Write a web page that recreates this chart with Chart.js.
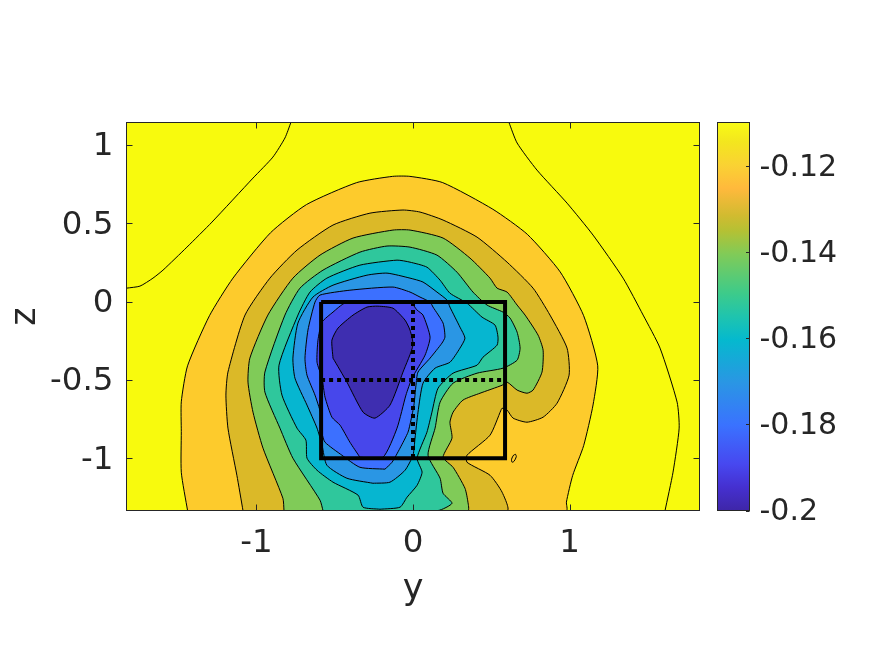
<!DOCTYPE html>
<html>
<head>
<meta charset="utf-8">
<title>Contour map</title>
<script src="https://cdn.jsdelivr.net/npm/chart.js@4/dist/chart.umd.js"></script>
<style>
  body { margin: 0; background: #fff; }
  #wrap { position: relative; width: 875px; height: 656px; overflow: hidden; }
  #contour { position: absolute; left: 0; top: 0; }
  #colorbar { position: absolute; left: 700px; top: 0; }
</style>
</head>
<body>
<div id="wrap">
  <canvas id="contour" width="875" height="656"></canvas>
  <canvas id="colorbar" width="175" height="656"></canvas>
</div>
<script>
// Axis ranges and ticks
const yRange = [-1.83, 1.83];
const zRange = [-1.334, 1.144];
const yTicks = [-1, 0, 1];
const zTicks = [-1, -0.5, 0, 0.5, 1];
const cRange = [-0.2, -0.1098];
const cTicks = [-0.2, -0.18, -0.16, -0.14, -0.12];

// Contour outlines as [y, z], outermost level first
const levelBase = [[-1.83,-1.334],[-1.83,1.144],[1.83,1.144],[1.83,-1.334]];
const levelA = [[-1.44,-1.334],[-1.48,-1.09],[-1.48,-0.83],[-1.48,-0.64],[-1.44,-0.41],[-1.30,-0.09],[-1.15,0.15],[-0.91,0.44],[-0.68,0.62],[-0.36,0.76],[-0.13,0.80],[-0.02,0.80],[0.19,0.76],[0.51,0.59],[0.73,0.43],[0.94,0.19],[1.09,-0.09],[1.18,-0.41],[1.15,-0.66],[1.09,-0.92],[1.02,-1.11],[0.98,-1.28],[0.98,-1.334]];
const levelB = [[-1.086,-1.334],[-1.125,-1.109],[-1.182,-0.808],[-1.195,-0.597],[-1.182,-0.45],[-1.073,-0.086],[-0.914,0.15],[-0.741,0.329],[-0.511,0.489],[-0.275,0.565],[-0.064,0.585],[0.045,0.572],[0.192,0.521],[0.409,0.412],[0.601,0.252],[0.767,0.086],[0.875,-0.086],[0.984,-0.297],[0.997,-0.47],[0.92,-0.649],[0.831,-0.738],[0.728,-0.77],[0.639,-0.744],[0.601,-0.693],[0.569,-0.681],[0.562,-0.693],[0.492,-0.853],[0.345,-0.981],[0.345,-1.026],[0.492,-1.109],[0.569,-1.217],[0.601,-1.334]];
const levelC = [[-0.824,-1.334],[-0.831,-1.256],[-0.958,-0.936],[-1.022,-0.706],[-1.054,-0.514],[-1.042,-0.361],[-0.927,-0.086],[-0.767,0.15],[-0.594,0.297],[-0.383,0.406],[-0.128,0.457],[-0.019,0.457],[0.192,0.406],[0.364,0.278],[0.492,0.15],[0.537,0.086],[0.601,0.061],[0.665,-0.022],[0.716,-0.086],[0.799,-0.214],[0.831,-0.31],[0.824,-0.45],[0.767,-0.565],[0.728,-0.585],[0.665,-0.565],[0.601,-0.514],[0.569,-0.534],[0.428,-0.585],[0.319,-0.629],[0.256,-0.706],[0.236,-0.77],[0.249,-0.872],[0.192,-0.994],[0.256,-1.058],[0.332,-1.192],[0.351,-1.281],[0.351,-1.334]];
const levelD = [[-0.575,-1.334],[-0.594,-1.268],[-0.767,-1.0],[-0.85,-0.808],[-0.946,-0.578],[-0.946,-0.45],[-0.818,-0.086],[-0.722,0.086],[-0.575,0.201],[-0.339,0.316],[-0.166,0.355],[-0.019,0.348],[0.153,0.297],[0.281,0.188],[0.383,0.061],[0.473,-0.022],[0.575,-0.067],[0.62,-0.105],[0.665,-0.195],[0.684,-0.297],[0.665,-0.374],[0.575,-0.425],[0.409,-0.457],[0.256,-0.521],[0.173,-0.642],[0.141,-0.808],[0.096,-0.981],[0.173,-1.128],[0.192,-1.224],[0.249,-1.288],[0.16,-1.334]];
const levelE = [[-0.211,-1.326],[-0.319,-1.313],[-0.351,-1.236],[-0.511,-1.153],[-0.613,-1.077],[-0.677,-1.0],[-0.684,-0.885],[-0.741,-0.808],[-0.837,-0.597],[-0.856,-0.406],[-0.735,-0.086],[-0.658,0.061],[-0.55,0.15],[-0.339,0.233],[-0.102,0.265],[-0.019,0.252],[0.089,0.22],[0.173,0.137],[0.236,0.054],[0.345,-0.01],[0.441,-0.099],[0.524,-0.15],[0.543,-0.227],[0.537,-0.278],[0.447,-0.355],[0.409,-0.406],[0.256,-0.457],[0.16,-0.553],[0.121,-0.706],[0.089,-0.834],[0.026,-1.0],[0.058,-1.089],[0.026,-1.173],[-0.038,-1.249],[-0.083,-1.313]];
const levelF = [[-0.256,-1.16],[-0.422,-1.128],[-0.55,-1.045],[-0.581,-0.917],[-0.613,-0.808],[-0.677,-0.661],[-0.754,-0.489],[-0.767,-0.361],[-0.735,-0.137],[-0.639,0.029],[-0.511,0.105],[-0.294,0.169],[-0.166,0.182],[-0.019,0.15],[0.064,0.125],[0.153,0.061],[0.217,0.01],[0.236,-0.035],[0.3,-0.163],[0.332,-0.233],[0.3,-0.297],[0.236,-0.387],[0.141,-0.425],[0.064,-0.521],[0.032,-0.706],[0.013,-0.872],[0,-0.981],[-0.051,-1.077],[-0.147,-1.153]];
const levelG = [[-0.179,-1.07],[-0.339,-1.058],[-0.454,-0.981],[-0.562,-0.898],[-0.581,-0.84],[-0.581,-0.744],[-0.626,-0.597],[-0.677,-0.47],[-0.69,-0.361],[-0.671,-0.182],[-0.626,-0.003],[-0.594,0.042],[-0.403,0.073],[-0.128,0.093],[-0.019,0.061],[0.045,0.029],[0.109,-0.003],[0.128,-0.035],[0.192,-0.137],[0.204,-0.227],[0.185,-0.265],[0.109,-0.361],[0.032,-0.45],[0.019,-0.534],[0.006,-0.661],[-0.013,-0.757],[-0.032,-0.834],[-0.083,-0.936],[-0.134,-1.026]];
const levelH = [[-0.339,-0.994],[-0.403,-0.898],[-0.466,-0.789],[-0.518,-0.738],[-0.562,-0.61],[-0.581,-0.489],[-0.613,-0.387],[-0.607,-0.246],[-0.581,-0.131],[-0.511,-0.067],[-0.435,-0.01],[-0.224,-0.003],[-0.019,-0.003],[0.026,-0.054],[0.064,-0.086],[0.109,-0.227],[0.077,-0.342],[-0.006,-0.489],[-0.045,-0.597],[-0.102,-0.808],[-0.192,-0.994]];
const levelI = [[-0.511,-0.361],[-0.518,-0.246],[-0.479,-0.169],[-0.383,-0.086],[-0.294,-0.035],[-0.224,-0.029],[-0.128,-0.042],[-0.051,-0.118],[-0.019,-0.182],[0,-0.278],[-0.064,-0.45],[-0.147,-0.661],[-0.243,-0.744],[-0.319,-0.706],[-0.422,-0.514]];
const levels = [levelA, levelB, levelC, levelD, levelE, levelF, levelG, levelH, levelI];
const levelColors = ['#FDCB2C', '#DBB928', '#80CB58', '#2FC79C', '#06B6D0', '#2A96E4', '#3C70FF', '#4747EB', '#3E2EB0'];
const baseColor = '#F8FA0D';

// Contours that stay inside the yellow band, so only the line shows
const lineUpperLeft = [[-1.83,0.086],[-1.744,0.099],[-1.661,0.15],[-1.597,0.201],[-1.444,0.348],[-1.284,0.508],[-1.022,0.789],[-0.895,0.923],[-0.818,1.045],[-0.78,1.144]];
const lineRight = [[0.613,1.144],[0.665,1.013],[0.792,0.84],[0.984,0.629],[1.15,0.425],[1.342,0.15],[1.47,-0.086],[1.578,-0.297],[1.687,-0.642],[1.7,-0.808],[1.661,-1.089],[1.61,-1.334]];
const smallLoop = [[0.655,-0.975],[0.66,-0.99],[0.645,-1.02],[0.632,-1.025],[0.63,-1.005],[0.643,-0.98],[0.655,-0.975]];

// Black box and the dotted cross inside it
const boxOutline = [[-0.587,-0.003],[0.588,-0.003],[0.588,-1],[-0.587,-1],[-0.587,-0.003]];
const crossH = [[-0.587,-0.5],[0.588,-0.5]];
const crossV = [[0,-0.003],[0,-1]];

// Colorbar gradient, position from bottom
const cStops = [[0,'#3E26A8'],[0.06,'#4530D0'],[0.12,'#4748F0'],[0.22,'#3A72FF'],[0.33,'#2A96E4'],[0.44,'#05B9CE'],[0.5,'#1FC4AE'],[0.56,'#3DCB8A'],[0.66,'#80CB58'],[0.72,'#B4C134'],[0.76,'#D1BB30'],[0.83,'#FFB93C'],[0.89,'#FAD233'],[0.95,'#F3E61E'],[1,'#F9FB15']];

const textColor = '#262626';
const fontFamily = '"DejaVu Sans", sans-serif';
const axisFontSize = 32.5;
const barFontSize = 30;
const labelFontSize = 35;

function toPoints(list) {
  return list.map(p => ({ x: p[0], y: p[1] }));
}

function closeLoop(list) {
  return list.concat([list[0]]);
}

function lineSet(list, width, dash) {
  return {
    data: toPoints(list),
    showLine: true,
    pointRadius: 0,
    borderColor: '#000',
    borderWidth: width,
    borderDash: dash || [],
    fill: false,
    tension: 0
  };
}

// Matlab style box with ticks pointing inward
const frame = {
  id: 'frame',
  afterDatasetsDraw(chart, args, opts) {
    const { ctx, chartArea: a } = chart;
    ctx.save();
    ctx.strokeStyle = textColor;
    ctx.lineWidth = 1;
    ctx.strokeRect(a.left, a.top, a.right - a.left, a.bottom - a.top);
    ctx.beginPath();
    if (opts.mirror) {
      chart.scales.x.ticks.forEach(t => {
        const px = Math.round(chart.scales.x.getPixelForValue(t.value)) + 0.5;
        ctx.moveTo(px, a.bottom); ctx.lineTo(px, a.bottom - opts.len);
        ctx.moveTo(px, a.top); ctx.lineTo(px, a.top + opts.len);
      });
      chart.scales.y.ticks.forEach(t => {
        const py = Math.round(chart.scales.y.getPixelForValue(t.value)) + 0.5;
        ctx.moveTo(a.left, py); ctx.lineTo(a.left + opts.len, py);
        ctx.moveTo(a.right, py); ctx.lineTo(a.right - opts.len, py);
      });
    } else {
      chart.scales.y.ticks.forEach(t => {
        const py = Math.round(chart.scales.y.getPixelForValue(t.value)) + 0.5;
        ctx.moveTo(a.right, py); ctx.lineTo(a.right - opts.len, py);
      });
    }
    ctx.stroke();
    ctx.restore();
  }
};

// Drawn back to front: the library paints the last dataset first
const datasets = [];
datasets.push({
  data: toPoints(closeLoop(levelBase)),
  showLine: true,
  pointRadius: 0,
  borderWidth: 0,
  borderColor: baseColor,
  backgroundColor: baseColor,
  fill: 'shape',
  tension: 0
});
levels.forEach((level, i) => {
  datasets.push({
    data: toPoints(closeLoop(level)),
    showLine: true,
    pointRadius: 0,
    borderColor: '#000',
    borderWidth: 1,
    backgroundColor: levelColors[i],
    fill: 'shape',
    tension: 0.2
  });
});
datasets.push(Object.assign(lineSet(lineUpperLeft, 1), { tension: 0.2 }));
datasets.push(Object.assign(lineSet(lineRight, 1), { tension: 0.2 }));
datasets.push(Object.assign(lineSet(smallLoop, 1), { tension: 0.3 }));
datasets.push(lineSet(boxOutline, 4));
datasets.push(lineSet(crossH, 4, [4, 4]));
datasets.push(lineSet(crossV, 4, [4, 4]));
datasets.reverse();

new Chart(document.getElementById('contour'), {
  type: 'scatter',
  data: { datasets: datasets },
  options: {
    responsive: false,
    animation: false,
    layout: { padding: { left: 4.5, right: 175.5, top: 122.5, bottom: 45 } },
    plugins: {
      legend: { display: false },
      tooltip: { enabled: false },
      frame: { mirror: true, len: 6 }
    },
    scales: {
      x: {
        type: 'linear',
        min: yRange[0],
        max: yRange[1],
        afterBuildTicks: s => { s.ticks = yTicks.map(v => ({ value: v })); },
        afterFit: s => { s.height = 100.5; },
        grid: { display: false },
        border: { display: false },
        ticks: { color: textColor, font: { family: fontFamily, size: axisFontSize }, padding: 6, maxRotation: 0, callback: v => String(v) },
        title: { display: true, text: 'y', color: textColor, font: { family: fontFamily, size: labelFontSize }, padding: 0 }
      },
      y: {
        type: 'linear',
        min: zRange[0],
        max: zRange[1],
        afterBuildTicks: s => { s.ticks = zTicks.map(v => ({ value: v })); },
        afterFit: s => { s.width = 122; },
        grid: { display: false },
        border: { display: false },
        ticks: { color: textColor, font: { family: fontFamily, size: axisFontSize }, padding: 5, labelOffset: 2, callback: v => String(v) },
        title: { display: true, text: 'z', color: textColor, font: { family: fontFamily, size: labelFontSize }, padding: 0 }
      }
    }
  },
  plugins: [frame]
});

new Chart(document.getElementById('colorbar'), {
  type: 'bar',
  data: {
    labels: ['c'],
    datasets: [{
      data: [cRange],
      barPercentage: 1,
      categoryPercentage: 1,
      backgroundColor: ctx => {
        const area = ctx.chart.chartArea;
        if (!area) return '#000';
        const g = ctx.chart.ctx.createLinearGradient(0, area.bottom, 0, area.top);
        cStops.forEach(s => g.addColorStop(s[0], s[1]));
        return g;
      }
    }]
  },
  options: {
    responsive: false,
    animation: false,
    layout: { padding: { left: 17.5, right: 0, top: 122.5, bottom: 145.5 } },
    plugins: {
      legend: { display: false },
      tooltip: { enabled: false },
      frame: { mirror: false, len: 3.5 }
    },
    scales: {
      x: { display: false },
      y: {
        position: 'right',
        min: cRange[0],
        max: cRange[1],
        afterBuildTicks: s => { s.ticks = cTicks.map(v => ({ value: v })); },
        afterFit: s => { s.width = 125.5; },
        grid: { display: false },
        border: { display: false },
        ticks: { color: textColor, font: { family: fontFamily, size: barFontSize }, padding: 2, labelOffset: 2, callback: v => String(v) }
      }
    }
  },
  plugins: [frame]
});
</script>
</body>
</html>
